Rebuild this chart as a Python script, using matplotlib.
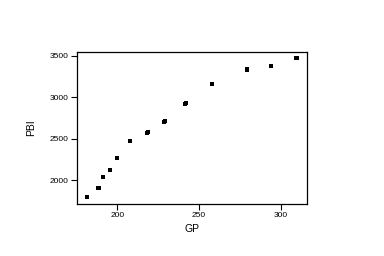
import matplotlib
matplotlib.use("Agg")
import matplotlib.pyplot as plt

plt.rcParams["font.family"] = ["Liberation Sans", "DejaVu Sans"]

gp = [181.3, 188.0, 188.8, 191.1, 195.3, 199.8, 207.6, 218.4, 218.8, 228.6,
      229.0, 241.4, 241.8, 257.8, 279.2, 279.6, 293.9, 309.2, 309.8]
pbi = [1795, 1905, 1913, 2043, 2128, 2273, 2478, 2573, 2585, 2706,
       2716, 2925, 2934, 3167, 3333, 3345, 3384, 3478, 3481]

fig = plt.figure(figsize=(3.84, 2.56), dpi=100)
ax = fig.add_axes([77 / 384, 1 - 204 / 256, 230 / 384, 152 / 256])

ax.scatter(gp, pbi, marker="s", s=9, color="black", linewidths=0)

ax.set_xlim(175.3, 316.1)
ax.set_ylim(1714, 3548)
ax.set_xticks([200, 250, 300])
ax.set_yticks([2000, 2500, 3000, 3500])
ax.tick_params(direction="out", length=4, width=0.8, labelsize=6, pad=2)
for s in ax.spines.values():
    s.set_linewidth(0.9)

ax.set_xlabel("GP", fontsize=7.5, labelpad=3)
ax.set_ylabel("PBI", fontsize=7.5, labelpad=10)

fig.savefig("out.png", dpi=100)
